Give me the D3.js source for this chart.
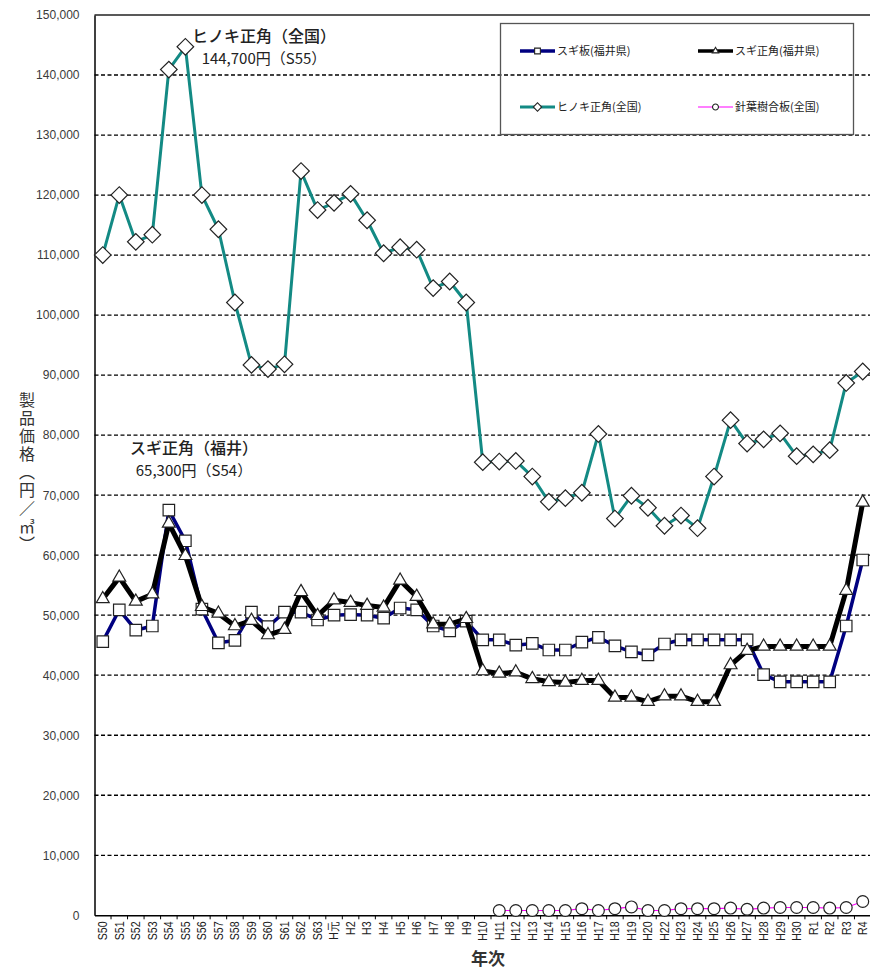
<!DOCTYPE html>
<html>
<head>
<meta charset="utf-8">
<script src="https://cdn.jsdelivr.net/npm/d3@7"></script>
<style>
  html, body { margin: 0; padding: 0; background: #fff; }
  svg { display: block; }
</style>
</head>
<body>
<div id="chart"></div>
<script>
const categories = ["S50","S51","S52","S53","S54","S55","S56","S57","S58","S59","S60","S61","S62","S63",
  "H元","H2","H3","H4","H5","H6","H7","H8","H9","H10",
  "H11","H12","H13","H14","H15","H16","H17","H18","H19","H20",
  "H22","H23","H24","H25","H26","H27","H28","H29","H30",
  "R1","R2","R3","R4"];

// スギ板(福井県)
const sugiBoard = [45600,50900,47500,48200,67500,62400,51000,45400,45800,50500,48100,50500,50500,49200,
  50000,50100,50000,49500,51200,50900,48200,47400,49000,45900,
  45900,45000,45300,44200,44200,45500,46300,44900,43900,43400,
  45200,45900,45900,45900,45900,45900,40100,38900,38900,
  38900,38900,48200,59200];

// スギ正角(福井県)
const sugiSquare = [52700,56300,52300,53500,65300,59900,51400,50300,48200,49100,46700,47600,53900,49900,
  52500,52100,51600,51300,55800,53100,48500,48500,49400,40700,
  40300,40500,39400,38900,38800,39100,39100,36300,36300,35600,
  36500,36500,35600,35600,41700,44100,44800,44800,44800,
  44800,44800,54100,68800];

// ヒノキ正角(全国)
const hinoki = [110000,120000,112200,113400,140900,144700,120000,114300,102100,91700,91000,91800,124000,117500,
  118700,120200,115800,110300,111300,110900,104500,105600,102100,75500,
  75600,75700,73100,68900,69500,70400,80200,66100,69900,67900,
  64900,66600,64500,73100,82500,78600,79300,80300,76500,
  76800,77500,88700,90600];

// 針葉樹合板(全国)
const plywood = [null,null,null,null,null,null,null,null,null,null,null,null,null,null,
  null,null,null,null,null,null,null,null,null,null,
  800,800,800,800,800,1100,800,1100,1400,800,
  800,1100,1100,1100,1200,1000,1200,1300,1300,
  1300,1200,1300,2300];

const yTicks = [0,10000,20000,30000,40000,50000,60000,70000,80000,90000,100000,110000,120000,130000,140000,150000];

const seriesNames = ["スギ板(福井県)","スギ正角(福井県)","ヒノキ正角(全国)","針葉樹合板(全国)"];

const W = 870, H = 969;
const X0 = 94.5, X1 = 871, Y0 = 915.3, Y1 = 15;
const jp = "'Noto Sans CJK JP', 'Noto Sans', sans-serif";
const latin = "'Liberation Sans', Arial, sans-serif";

const svg = d3.select("#chart").append("svg")
  .attr("width", W).attr("height", H)
  .attr("viewBox", `0 0 ${W} ${H}`);
svg.append("rect").attr("width", W).attr("height", H).attr("fill", "#fff");

const x = d3.scaleBand().domain(categories).range([X0, X1]).padding(0);
const cx = c => x(c) + x.bandwidth() / 2;
const y = d3.scaleLinear().domain([0, 150000]).range([Y0, Y1]);

// gridlines
svg.append("g").selectAll("line")
  .data(yTicks.filter(t => t > 0 && t < 150000))
  .join("line")
  .attr("x1", X0).attr("x2", X1)
  .attr("y1", d => y(d)).attr("y2", d => y(d))
  .attr("stroke", "#000").attr("stroke-width", 1.3)
  .attr("stroke-dasharray", "4,2.5");

// top border
svg.append("line").attr("x1", X0).attr("x2", X1).attr("y1", y(150000)).attr("y2", y(150000))
  .attr("stroke", "#222").attr("stroke-width", 1.5);

// y axis
const yAxis = svg.append("g").attr("transform", `translate(${X0},0)`)
  .call(d3.axisLeft(y).tickValues(yTicks).tickFormat(d3.format(",")).tickSize(0).tickPadding(15));
yAxis.select(".domain").attr("stroke", "#000").attr("stroke-width", 1.5);
yAxis.selectAll("text").attr("font-family", latin).attr("font-size", 12).attr("fill", "#3a3a3a");

// x axis
const xAxis = svg.append("g").attr("transform", `translate(0,${Y0})`)
  .call(d3.axisBottom(x).tickSize(0).tickPadding(0));
xAxis.select(".domain").attr("stroke", "#000").attr("stroke-width", 1.5);
xAxis.selectAll("text")
  .attr("font-family", latin).attr("font-size", 13).attr("fill", "#222")
  .attr("text-anchor", "end")
  .attr("dy", null).attr("y", null)
  .attr("transform", "translate(0,6) rotate(-90) scale(0.82,1)")
  .attr("dominant-baseline", "central");
// boundary tick marks
svg.append("g").selectAll("line")
  .data(categories.slice(1))
  .join("line")
  .attr("x1", d => x(d)).attr("x2", d => x(d))
  .attr("y1", Y0).attr("y2", Y0 + 4)
  .attr("stroke", "#000").attr("stroke-width", 1);

// axis titles
svg.append("text")
  .attr("x", 27).attr("y", 392)
  .attr("font-family", jp).attr("font-size", 16).attr("fill", "#333")
  .attr("writing-mode", "vertical-rl")
  .attr("letter-spacing", 2)
  .text("製品価格（円／㎥）");

svg.append("text")
  .attr("x", 488).attr("y", 965)
  .attr("text-anchor", "middle")
  .attr("font-family", jp).attr("font-size", 17).attr("font-weight", "bold").attr("fill", "#333")
  .text("年次");

// series
const series = [
  { name: seriesNames[0], values: sugiBoard, color: "#000080", width: 3.5, sym: "square" },
  { name: seriesNames[1], values: sugiSquare, color: "#000000", width: 5, sym: "triangle" },
  { name: seriesNames[2], values: hinoki, color: "#138a84", width: 3, sym: "diamond" },
  { name: seriesNames[3], values: plywood, color: "#ff00ff", width: 1.2, sym: "circle" }
];

function symbolPath(type, scale) {
  const s = scale || 1;
  if (type === "square") return d3.symbol(d3.symbolSquare, 132 * s * s)();
  if (type === "triangle") return d3.symbol(d3.symbolTriangle, 72 * s * s)();
  if (type === "diamond") return d3.symbol(d3.symbolSquare, 138 * s * s)();
  return d3.symbol(d3.symbolCircle, 110 * s * s)();
}

const line = d3.line()
  .defined(d => d.v != null)
  .x(d => cx(d.c)).y(d => y(d.v));

series.forEach(s => {
  const pts = categories.map((c, i) => ({ c, v: s.values[i] }));
  const g = svg.append("g");
  g.append("path").datum(pts)
    .attr("d", line)
    .attr("fill", "none").attr("stroke", s.color).attr("stroke-width", s.width)
    .attr("stroke-linejoin", "round");
  g.selectAll("path.m").data(pts.filter(d => d.v != null)).join("path")
    .attr("class", "m")
    .attr("d", symbolPath(s.sym))
    .attr("transform", d => `translate(${cx(d.c)},${y(d.v)})` + (s.sym === "diamond" ? " rotate(45)" : ""))
    .attr("fill", "#fff").attr("stroke", "#222").attr("stroke-width", 1.2);
});

// legend
const lg = svg.append("g");
lg.append("rect").attr("x", 500.5).attr("y", 23.5).attr("width", 353).attr("height", 111)
  .attr("fill", "none").attr("stroke", "#555").attr("stroke-width", 1.3);
const legendPos = [
  { lx: 520, ly: 51 }, { lx: 698, ly: 51 }, { lx: 520, ly: 107 }, { lx: 698, ly: 107 }
];
series.forEach((s, i) => {
  const p = legendPos[i];
  lg.append("line").attr("x1", p.lx).attr("x2", p.lx + 35).attr("y1", p.ly).attr("y2", p.ly)
    .attr("stroke", s.color).attr("stroke-width", Math.min(s.width, 3.5));
  lg.append("path").attr("d", symbolPath(s.sym, 0.5))
    .attr("transform", `translate(${p.lx + 17.5},${p.ly})` + (s.sym === "diamond" ? " rotate(45)" : ""))
    .attr("fill", "#fff").attr("stroke", "#222").attr("stroke-width", 1.1);
  lg.append("text").attr("x", p.lx + 37).attr("y", p.ly + 4)
    .attr("font-family", jp).attr("font-size", 11).attr("fill", "#222")
    .text(s.name);
});

// annotations
const ann = [
  { t1: "ヒノキ正角（全国）", t2: "144,700円（S55）", ax: 264, ay: 42 },
  { t1: "スギ正角（福井）", t2: "65,300円（S54）", ax: 194, ay: 454 }
];
ann.forEach(a => {
  svg.append("text").attr("x", a.ax).attr("y", a.ay).attr("text-anchor", "middle")
    .attr("font-family", jp).attr("font-size", 16).attr("font-weight", 500).attr("fill", "#222")
    .text(a.t1);
  svg.append("text").attr("x", a.ax).attr("y", a.ay + 22).attr("text-anchor", "middle")
    .attr("font-family", jp).attr("font-size", 15).attr("fill", "#222")
    .text(a.t2);
});
</script>
</body>
</html>
